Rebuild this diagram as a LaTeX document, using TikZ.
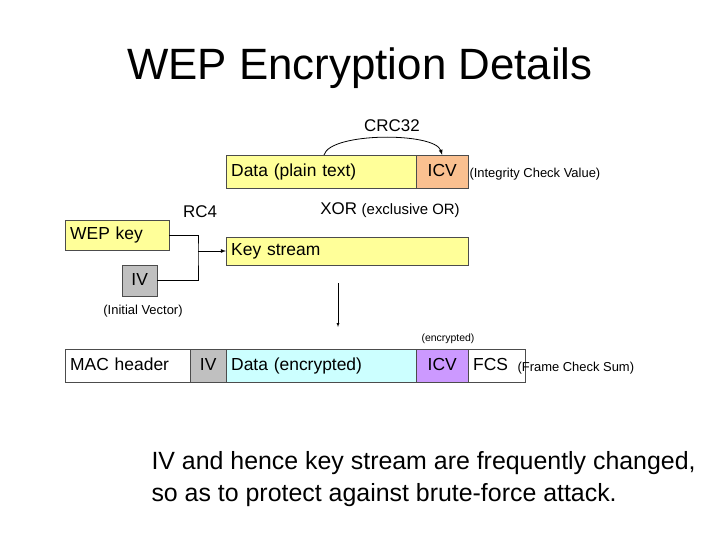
\documentclass[tikz,border=0pt]{standalone}
\usepackage{fontspec}
\setmainfont{Liberation Sans}
\definecolor{plainfill}{RGB}{255,255,153}
\definecolor{icvfill}{RGB}{250,192,144}
\definecolor{encfill}{RGB}{204,255,255}
\definecolor{icvenc}{RGB}{204,153,255}
\definecolor{ivfill}{RGB}{192,192,192}
\begin{document}
\begin{tikzpicture}[x=1bp,y=-1bp,
    fld/.style={draw=black!70, anchor=north west, inner xsep=5pt, inner ysep=0pt, font=\fontsize{17.5}{19}\selectfont, text height=12.5pt, text depth=3.5pt},
    note/.style={font=\fontsize{13}{15}\selectfont},
    lbl/.style={font=\fontsize{17}{19}\selectfont}]
    \useasboundingbox (0,0) rectangle (720,540);

    \node[font=\fontsize{44}{48}\selectfont] (title) at (360,68) {WEP Encryption Details};

    % plain frame
    \node[fld, fill=plainfill, minimum width=190bp, minimum height=33bp, text width=180bp] (data) at (226,155) {Data (plain text)};
    \node[fld, fill=icvfill, minimum width=52bp, minimum height=33bp] (icv) at (416,155) {ICV};
    \node[note, anchor=west] (icvnote) at (466,174) {(Integrity Check Value)};
    \node[lbl] (crc) at (392,126) {CRC32};
    \coordinate (crcs) at (324,155);
    \draw[-latex, thick] (crcs) .. controls (330,132) and (435,132) .. (icv.north);

    % key stream
    \node[lbl] (rc4) at (200,212) {RC4};
    \node[lbl] (xor) at (390,210) {XOR {\fontsize{15}{17}\selectfont(exclusive OR)}};
    \node[fld, fill=plainfill, minimum width=104bp, minimum height=30bp, text width=94bp] (wep) at (65,220) {WEP key};
    \node[fld, fill=ivfill, minimum width=35bp, minimum height=31bp] (iv) at (122,265) {IV};
    \node[note] (ivnote) at (143,311) {(Initial Vector)};
    \node[fld, fill=plainfill, minimum width=242bp, minimum height=28bp, text width=232bp] (ks) at (226,237) {Key stream};
    \coordinate (join) at (198,251);
    \draw[thick] (wep.east) -| (join) |- (iv.east);
    \draw[-latex, thick] (join) -- (join -| ks.west);

    \coordinate (dtop) at (338,283);
    \coordinate (dbot) at (338,327);
    \draw[-latex] (dtop) -- (dbot);

    % encrypted frame
    \node[note, font=\fontsize{10.5}{12}\selectfont] (encnote) at (448,339) {(encrypted)};
    \node[fld, fill=white, minimum width=125bp, minimum height=33bp, text width=115bp] (mac) at (65,349) {MAC header};
    \node[fld, fill=ivfill, minimum width=36bp, minimum height=33bp] (iv2) at (190,349) {IV};
    \node[fld, fill=encfill, minimum width=190bp, minimum height=33bp, text width=180bp] (denc) at (226,349) {Data (encrypted)};
    \node[fld, fill=icvenc, minimum width=52bp, minimum height=33bp] (icv2) at (416,349) {ICV};
    \node[fld, fill=white, minimum width=57bp, minimum height=33bp, text width=47bp] (fcs) at (468,349) {FCS};
    \node[note, anchor=west] (fcsnote) at (514,368) {(Frame Check Sum)};

    \node[align=left, anchor=north west, font=\fontsize{25}{32}\selectfont] (msg) at (148,448)
        {IV and hence key stream are frequently changed,\\ so as to protect against brute-force attack.};
\end{tikzpicture}
\end{document}
